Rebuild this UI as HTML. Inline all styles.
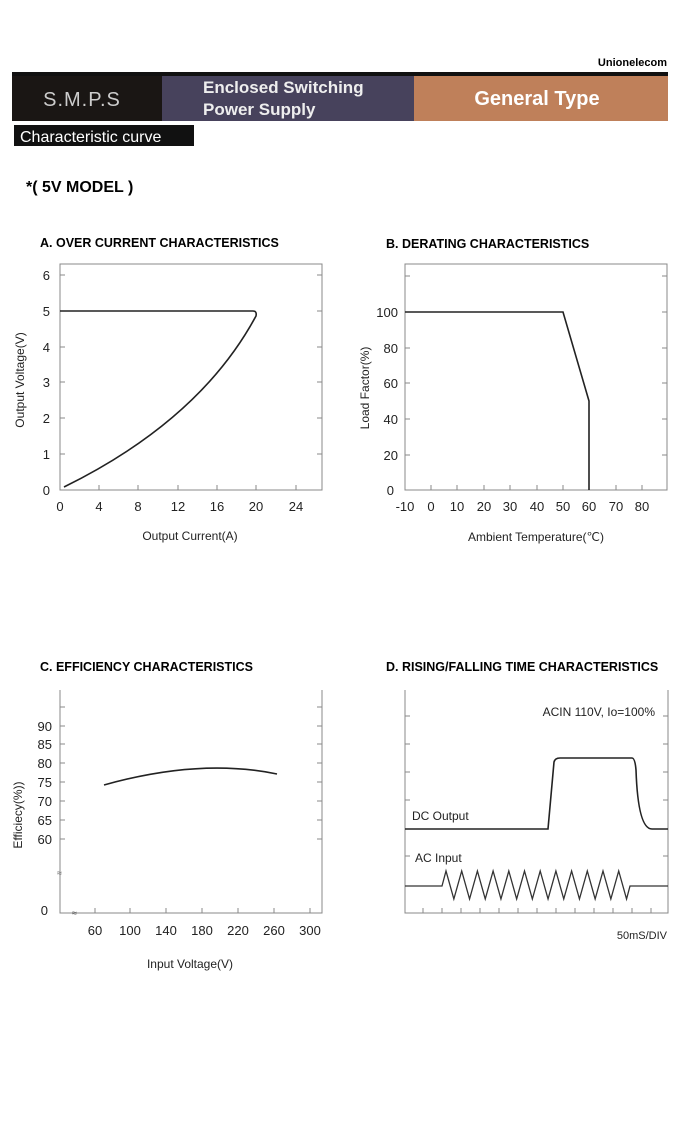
<!DOCTYPE html>
<html><head><meta charset="utf-8"><style>
body{margin:0;background:#fff;width:680px;height:1116px;overflow:hidden;font-family:"Liberation Sans",sans-serif}
</style></head><body>
<svg width="680" height="1116" xmlns="http://www.w3.org/2000/svg" font-family="Liberation Sans, sans-serif">
<text x="667" y="66" text-anchor="end" font-size="11" font-weight="bold">Unionelecom</text>
<rect x="12" y="72" width="656" height="5" fill="#111"/>
<rect x="12" y="76" width="150" height="45" fill="#1a1614"/>
<rect x="162" y="76" width="252" height="45" fill="#47425c"/>
<rect x="414" y="76" width="254" height="45" fill="#bf805a"/>
<text x="82" y="106" text-anchor="middle" font-size="20" fill="#ccc" letter-spacing="1">S.M.P.S</text>
<text x="203" y="93" font-size="17" font-weight="bold" fill="#eee">Enclosed Switching</text>
<text x="203" y="115" font-size="17" font-weight="bold" fill="#eee">Power Supply</text>
<text x="537" y="105" text-anchor="middle" font-size="20" font-weight="bold" fill="#fff">General Type</text>
<rect x="14" y="125" width="180" height="21" fill="#111"/>
<text x="20" y="142" font-size="16" fill="#fff">Characteristic curve</text>
<text x="26" y="192" font-size="16" font-weight="bold">*( 5V MODEL )</text>
<g font-size="12.5" font-weight="bold">
<text x="40" y="247">A. OVER CURRENT CHARACTERISTICS</text>
<text x="386" y="248">B. DERATING CHARACTERISTICS</text>
<text x="40" y="671">C. EFFICIENCY CHARACTERISTICS</text>
<text x="386" y="671">D. RISING/FALLING TIME CHARACTERISTICS</text>
</g>
<g stroke="#888" fill="none" stroke-width="1">
<rect x="60" y="264" width="262" height="226"/>
<rect x="405" y="264" width="262" height="226"/>
<path d="M60 690V913H322V690"/>
<path d="M405 690V913H668V690"/>
<path d="M60 275h5M60 311h5M60 347h5M60 382h5M60 418h5M60 454h5M322 275h-5M322 311h-5M322 347h-5M322 382h-5M322 418h-5M322 454h-5M99 490v-5M138 490v-5M178 490v-5M217 490v-5M256 490v-5M296 490v-5"/>
<path d="M405 276h5M405 312h5M405 348h5M405 383h5M405 419h5M405 455h5M667 276h-5M667 312h-5M667 348h-5M667 383h-5M667 419h-5M667 455h-5M431 490v-5M457 490v-5M484 490v-5M510 490v-5M537 490v-5M563 490v-5M589 490v-5M616 490v-5M642 490v-5"/>
<path d="M60 707h5M60 726h5M60 744h5M60 763h5M60 782h5M60 801h5M60 820h5M60 839h5M322 707h-5M322 726h-5M322 744h-5M322 763h-5M322 782h-5M322 801h-5M322 820h-5M322 839h-5M95 913v-5M130 913v-5M166 913v-5M202 913v-5M238 913v-5M274 913v-5M310 913v-5"/>
<path d="M405 716h5M405 744h5M405 772h5M405 800h5M405 856h5M668 716h-5M668 744h-5M668 772h-5M668 800h-5M668 856h-5M423 913v-5M442 913v-5M461 913v-5M480 913v-5M499 913v-5M518 913v-5M537 913v-5M556 913v-5M575 913v-5M594 913v-5M613 913v-5M632 913v-5M651 913v-5"/>
</g>
<g stroke="#222" fill="none" stroke-width="1.6">
<path d="M60 311H253Q257 311 256 316Q200 420 64 487"/>
<path d="M405 312H563L589 401V490"/>
<path d="M104 785Q200 758 277 774"/>
<path d="M405 829H548L554 762Q555 758 560 758H632Q635 758 636 770Q638 829 652 829H668"/>
</g>
<g stroke="#333" fill="none" stroke-width="1.3">
<path d="M405 886H442L446 871l7.85 28l7.85 -28l7.85 28l7.85 -28l7.85 28l7.85 -28l7.85 28l7.85 -28l7.85 28l7.85 -28l7.85 28l7.85 -28l7.85 28l7.85 -28l7.85 28l7.85 -28l7.85 28l7.85 -28l7.85 28l7.85 -28l7.85 28l7.85 -28l7.85 28L630 886H668"/>
</g>
<g font-size="13" fill="#222">
<g text-anchor="end"><text x="50" y="280">6</text><text x="50" y="316">5</text><text x="50" y="352">4</text><text x="50" y="387">3</text><text x="50" y="423">2</text><text x="50" y="459">1</text><text x="50" y="495">0</text></g>
<g text-anchor="middle"><text x="60" y="511">0</text><text x="99" y="511">4</text><text x="138" y="511">8</text><text x="178" y="511">12</text><text x="217" y="511">16</text><text x="256" y="511">20</text><text x="296" y="511">24</text></g>
<text x="190" y="540" text-anchor="middle" font-size="12">Output Current(A)</text>
<text transform="translate(24,380) rotate(-90)" text-anchor="middle" font-size="12">Output Voltage(V)</text>
<g text-anchor="end"><text x="398" y="317">100</text><text x="398" y="353">80</text><text x="398" y="388">60</text><text x="398" y="424">40</text><text x="398" y="460">20</text><text x="394" y="495">0</text></g>
<g text-anchor="middle"><text x="405" y="511">-10</text><text x="431" y="511">0</text><text x="457" y="511">10</text><text x="484" y="511">20</text><text x="510" y="511">30</text><text x="537" y="511">40</text><text x="563" y="511">50</text><text x="589" y="511">60</text><text x="616" y="511">70</text><text x="642" y="511">80</text></g>
<text x="536" y="541" text-anchor="middle" font-size="12">Ambient Temperature(℃)</text>
<text transform="translate(369,388) rotate(-90)" text-anchor="middle" font-size="12">Load Factor(%)</text>
<g text-anchor="end"><text x="52" y="731">90</text><text x="52" y="749">85</text><text x="52" y="768">80</text><text x="52" y="787">75</text><text x="52" y="806">70</text><text x="52" y="825">65</text><text x="52" y="844">60</text><text x="48" y="915">0</text></g>
<g text-anchor="middle"><text x="95" y="935">60</text><text x="130" y="935">100</text><text x="166" y="935">140</text><text x="202" y="935">180</text><text x="238" y="935">220</text><text x="274" y="935">260</text><text x="310" y="935">300</text></g>
<text x="190" y="968" text-anchor="middle" font-size="12">Input Voltage(V)</text>
<text transform="translate(22,815) rotate(-90)" text-anchor="middle" font-size="12">Efficiecy(%))</text>
<text x="655" y="716" text-anchor="end" font-size="12">ACIN 110V, Io=100%</text>
<text x="412" y="820" font-size="12">DC Output</text>
<text x="415" y="862" font-size="12">AC Input</text>
<text x="667" y="939" text-anchor="end" font-size="11">50mS/DIV</text>
</g>
<text x="57" y="876" font-size="9" fill="#666">≈</text>
<text x="72" y="916" font-size="9" fill="#666">≈</text>
</svg>
</body></html>
